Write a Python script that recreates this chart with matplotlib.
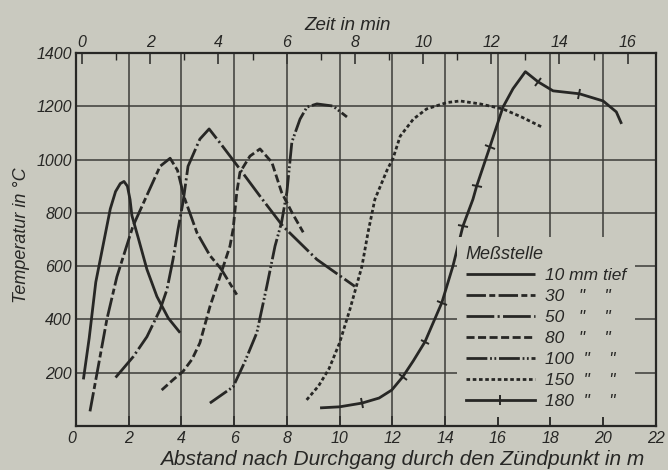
import math

import matplotlib
matplotlib.use("Agg")
import matplotlib.pyplot as plt
from matplotlib.lines import Line2D
from matplotlib.markers import MarkerStyle
from matplotlib.transforms import Affine2D

BG = "#c9c9bf"
INK = "#272725"
GRID = "#3c3c38"
FONT = ["Liberation Sans", "DejaVu Sans"]

plt.rcParams["font.family"] = FONT
plt.rcParams["font.style"] = "italic"
plt.rcParams["lines.scale_dashes"] = False

# Messstellen (depth in mm) and their curves: distance in m vs temperature in degC
depths = ["10", "30", "50", "80", "100", "150", "180"]

x10 = [0.28, 0.50, 0.75, 0.95, 1.15, 1.30, 1.50, 1.68, 1.82, 1.95, 2.05, 2.12, 2.35, 2.69, 3.07, 3.50, 3.95]
y10 = [175, 330, 540, 640, 740, 815, 880, 910, 918, 900, 850, 790, 710, 588, 486, 405, 350]

x30 = [0.53, 0.80, 1.17, 1.55, 2.16, 2.80, 3.19, 3.57, 3.85, 4.10, 4.59, 5.08, 5.50, 6.10]
y30 = [55, 200, 400, 560, 750, 890, 975, 1005, 960, 860, 725, 640, 590, 493]

x50 = [1.50, 2.17, 2.69, 3.19, 3.45, 3.68, 3.87, 4.06, 4.25, 4.70, 5.05, 5.50, 6.22, 7.00, 7.85, 9.14, 10.58]
y50 = [182, 260, 335, 437, 512, 625, 738, 840, 975, 1077, 1115, 1058, 964, 860, 750, 625, 524]

x80 = [3.25, 3.70, 4.06, 4.40, 4.70, 5.08, 5.46, 5.84, 5.96, 6.10, 6.22, 6.60, 6.98, 7.43, 7.80, 8.20, 8.62]
y80 = [135, 175, 205, 250, 312, 448, 560, 675, 738, 877, 952, 1013, 1040, 990, 877, 800, 727]

x100 = [5.08, 5.96, 6.40, 6.86, 7.24, 7.55, 7.80, 8.00, 8.19, 8.50, 8.76, 9.14, 9.75, 10.28]
y100 = [86, 147, 240, 350, 525, 675, 765, 877, 1066, 1152, 1197, 1209, 1201, 1160]

x150 = [8.75, 9.20, 9.60, 10.00, 10.39, 10.85, 11.08, 11.34, 11.80, 12.03, 12.30, 12.80, 13.30,
        14.07, 14.57, 15.33, 16.20, 16.90, 17.68]
y150 = [98, 150, 215, 312, 437, 600, 727, 851, 960, 1005, 1088, 1152, 1190,
        1214, 1220, 1209, 1190, 1160, 1122]

x180 = [9.26, 10.00, 10.85, 11.50, 11.98, 12.40, 12.80, 13.24, 13.88, 14.30, 14.68, 15.06, 15.20,
        15.70, 16.20, 16.58, 17.05, 17.53, 18.10, 19.10, 20.00, 20.50, 20.70]
y180 = [68, 72, 86, 105, 135, 185, 245, 316, 463, 600, 750, 851, 900,
        1047, 1197, 1266, 1330, 1292, 1258, 1247, 1220, 1179, 1134]
ticks180 = [2, 5, 7, 8, 10, 12, 13, 17, 19]  # measuring marks on the 180 mm curve

legend_labels = ["10 mm tief", '30   "    "', '50   "    "', '80   "    "',
                 '100  "    "', '150  "    "', '180  "    "']

# Zeit (min) on top vs Abstand (m) below
minute_x0 = 0.228
metres_per_min = 1.294

styles = {
    "10": dict(ls="-"),
    "30": dict(dashes=(14, 2.4, 4.3, 2.4)),
    "50": dict(dashes=(20, 2.4, 1.5, 2.4)),
    "80": dict(dashes=(5.8, 2.5)),
    "100": dict(dashes=(15, 2.0, 1.3, 1.8, 1.3, 2.0)),
    "150": dict(dashes=(2.6, 1.9)),
    "180": dict(ls="-"),
}


def build():
    fig = plt.figure(figsize=(6.68, 4.70), dpi=100, facecolor=BG)
    ax = fig.add_axes([0.1138, 0.0936, 0.868, 0.7936], facecolor=BG)
    ax.set_xlim(0, 22)
    ax.set_ylim(0, 1400)

    ax.set_xticks(range(0, 23, 2))
    ax.set_yticks(range(200, 1401, 200))
    ax.grid(True, color=GRID, linewidth=1.1)
    ax.set_axisbelow(True)
    ax.tick_params(axis="x", direction="in", length=7, width=1.1, color=INK,
                   labelsize=11.5, labelcolor=INK, pad=3.5)
    ax.tick_params(axis="y", length=0, labelsize=11.5, labelcolor=INK, pad=3)
    ax.get_xticklabels()[0].set_horizontalalignment("right")
    for s in ax.spines.values():
        s.set_linewidth(1.6)
        s.set_color(INK)

    data = [(x10, y10), (x30, y30), (x50, y50), (x80, y80), (x100, y100), (x150, y150), (x180, y180)]
    handles = []
    for d, (xs, ys) in zip(depths, data):
        (ln,) = ax.plot(xs, ys, color=INK, linewidth=2.0, solid_capstyle="butt",
                        dash_capstyle="butt", **styles[d])
        handles.append(ln)

    # perpendicular measuring marks on the 180 mm curve
    for i in ticks180:
        p0 = ax.transData.transform((x180[i - 1], y180[i - 1]))
        p1 = ax.transData.transform((x180[i + 1], y180[i + 1]))
        theta = math.degrees(math.atan2(p1[1] - p0[1], p1[0] - p0[0]))
        mk = MarkerStyle("|", transform=Affine2D().rotate_deg(theta))
        ax.plot([x180[i]], [y180[i]], linestyle="none", marker=mk, markersize=7,
                markeredgewidth=1.4, color=INK)
    handles[-1] = Line2D([], [], color=INK, linewidth=2.0, marker="|", markersize=7,
                         markeredgewidth=1.4)

    leg = ax.legend(handles, legend_labels, loc="upper left", bbox_to_anchor=(14.45 / 22, 0.507),
                    title="Meßstelle", alignment="left", frameon=True, facecolor=BG,
                    edgecolor="none", framealpha=1, fancybox=False, fontsize=12.5,
                    title_fontsize=13, handlelength=4.0, handletextpad=0.6,
                    labelspacing=0.33, borderpad=0.5, borderaxespad=0)
    for t in leg.get_texts():
        t.set_color(INK)
    leg.get_title().set_color(INK)

    # Zeit axis on top
    sec = ax.secondary_xaxis(
        "top",
        functions=(lambda x: (x - minute_x0) / metres_per_min, lambda m: minute_x0 + metres_per_min * m),
    )
    sec.set_xticks(range(0, 17, 2))
    sec.set_xticks(range(0, 17), minor=True)
    sec.tick_params(which="major", direction="in", length=8, width=1.1, color=INK,
                    labelsize=11.5, labelcolor=INK, pad=2)
    sec.tick_params(which="minor", direction="in", length=5, width=1.0, color=INK)
    sec.spines["top"].set_visible(False)

    fig.text(348 / 668, 1 - 30 / 470, "Zeit in min", fontsize=13.5, color=INK,
             ha="center", va="baseline")
    fig.text(402 / 668, 1 - 465 / 470, "Abstand nach Durchgang durch den Zündpunkt in m",
             fontsize=15, color=INK, ha="center", va="baseline")
    fig.text(22 / 668, 1 - 235 / 470, "Temperatur in °C", fontsize=13, color=INK,
             ha="center", va="center", rotation=90)

    fig.savefig("out.png", dpi=100, facecolor=BG)
    plt.close(fig)


if __name__ == "__main__":
    build()
